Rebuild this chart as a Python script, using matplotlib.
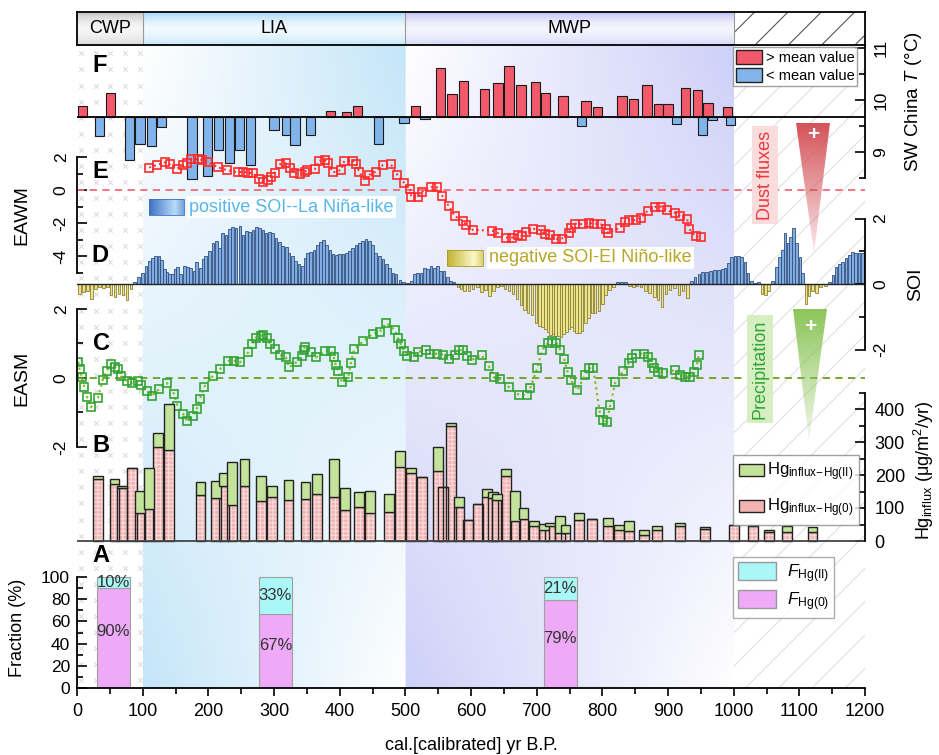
import numpy as np
import matplotlib.pyplot as plt
import matplotlib.colors as mcolors
from matplotlib.patches import Rectangle, Polygon, Patch

plt.rcParams['font.family'] = ['Liberation Sans', 'DejaVu Sans']
plt.rcParams['mathtext.fontset'] = 'custom'
plt.rcParams['mathtext.rm'] = 'Liberation Sans'
plt.rcParams['mathtext.it'] = 'Liberation Sans:italic'
plt.rcParams['axes.unicode_minus'] = False
plt.rcParams['hatch.linewidth'] = 0.8

# ---------------- data ----------------
# F: SW China temperature (bars drawn around the mean)
f_years = [8, 34, 51, 80, 96, 114, 129, 175, 199, 215, 232, 248, 264, 300, 319, 332,
           356, 386, 410, 427, 459, 498, 515, 530, 553, 571, 589, 621, 641, 658, 676,
           698, 714, 740, 768, 775, 793, 830, 848, 868, 885, 900, 913, 927, 945, 952,
           961, 968, 990, 995]
f_temp = [9.89, 9.30, 10.14, 8.85, 9.16, 9.11, 9.48, 8.48, 8.53, 9.04, 8.78, 9.04, 8.75,
          9.42, 9.32, 9.14, 9.32, 9.78, 9.76, 9.89, 9.16, 9.55, 9.89, 9.64, 10.62, 10.12,
          10.37, 10.21, 10.33, 10.65, 10.28, 10.34, 10.14, 10.08, 9.50, 9.99, 9.86, 10.08,
          10.02, 10.28, 9.92, 9.92, 9.53, 10.24, 10.20, 9.32, 9.94, 9.61, 9.86, 9.51]
f_mean = 9.67

# E: EAWM
e_years = [110, 122, 134, 141, 152, 162, 167, 173, 185, 190, 200, 215, 228, 245, 253, 261,
           268, 277, 283, 291, 296, 301, 309, 319, 324, 331, 339, 347, 350, 362, 369, 377,
           382, 390, 402, 407, 420, 425, 430, 438, 445, 455, 466, 478, 488, 498, 507, 509,
           519, 526, 539, 548, 556, 566, 575, 588, 593, 603, 632, 641, 653, 663, 671, 678,
           683, 694, 707, 712, 720, 730, 738, 749, 752, 759, 770, 779, 788, 798, 805, 809,
           827, 835, 840, 851, 859, 869, 880, 890, 898, 911, 919, 929, 932, 942, 950]
e_vals = [1.36, 1.52, 1.68, 1.56, 1.29, 1.50, 1.62, 1.86, 1.88, 1.82, 1.68, 1.37, 1.21, 1.07,
          1.11, 1.05, 1.01, 0.69, 0.51, 0.61, 0.81, 1.05, 1.56, 1.62, 1.31, 1.05, 0.97, 1.07,
          1.21, 1.25, 1.78, 1.82, 1.62, 1.07, 1.21, 1.76, 1.78, 1.56, 1.07, 0.57, 0.91, 1.11,
          1.52, 1.56, 0.91, 0.45, 0.04, -0.40, -0.44, -0.10, 0.17, 0.17, -0.34, -0.96, -1.57,
          -1.87, -2.15, -2.42, -2.46, -2.61, -2.88, -2.88, -2.70, -2.79, -2.55, -2.34, -2.44,
          -2.65, -2.75, -2.95, -2.95, -2.61, -2.28, -2.04, -2.08, -2.00, -2.04, -2.08, -2.34,
          -2.61, -2.28, -1.94, -1.83, -1.83, -1.67, -1.26, -1.02, -1.02, -1.22, -1.39, -1.59,
          -1.73, -2.34, -2.81, -2.85]

# D: SOI
d_years = [4, 10, 16, 22, 28, 34, 40, 46, 52, 58, 64, 70, 76, 82, 88, 94,
           100, 105, 110, 115, 120, 125, 129, 133, 137, 141, 145, 149, 153, 158, 164, 168,
           173, 178, 182, 188, 192, 196, 202, 207, 212, 217, 222, 227, 232, 237, 242, 248,
           253, 258, 263, 268, 273, 278, 283, 288, 293, 298, 303, 308, 313, 319, 323, 328,
           333, 338, 343, 347, 351, 356, 361, 366, 371, 375, 380, 385, 390, 395, 400, 405,
           410, 415, 420, 425, 430, 435, 440, 445, 450, 455, 461, 466, 471, 476, 481, 486,
           492, 497,
           503, 509, 514, 519, 524, 529, 534, 539, 544, 549, 554, 559, 564, 569, 574, 580,
           585, 590, 597, 603, 610, 616, 622, 628, 634, 640, 646, 652, 658, 664, 670, 676,
           681, 687, 693, 699, 704, 709, 713, 717, 721, 725, 729, 733, 737, 741, 745, 749,
           753, 757, 761, 765, 769, 774, 779, 784, 789, 795, 800, 805, 811, 817, 823, 829,
           835, 841, 847, 853, 859, 866, 872, 879, 885, 891, 897, 903, 910, 917, 923, 930,
           936, 941, 947, 953, 959, 965, 971, 977, 983, 987, 992, 997,
           1002, 1007, 1012, 1017, 1022, 1027, 1033, 1038, 1043, 1048, 1053, 1059, 1065,
           1070, 1074, 1078, 1083, 1087, 1091, 1096, 1101, 1105, 1110, 1115, 1120, 1126,
           1132, 1140, 1146, 1151, 1156, 1161, 1166, 1171, 1176, 1181, 1186, 1191, 1196]
d_soi = [-0.30, -0.25, -0.20, -0.45, -0.15, -0.10, -0.12, -0.10, -0.35, -0.40, -0.30, -0.35,
         -0.50, -0.15, 0.05, 0.20,
         0.35, 0.54, 0.70, 0.80, 0.87, 0.85, 0.72, 0.45, 0.37, 0.30, 0.30, 0.45, 0.52, 0.30,
         0.54, 0.52, 0.48, 0.40, 0.66, 0.50, 0.75, 0.87, 1.02, 1.24, 1.30, 1.10, 1.57, 1.50,
         1.69, 1.75, 1.70, 1.77, 1.50, 1.62, 1.59, 1.65, 1.75, 1.72, 1.66, 1.57, 1.60, 1.56,
         1.40, 1.27, 1.15, 1.12, 0.95, 0.87, 0.70, 0.61, 0.56, 0.80, 0.95, 0.99, 1.05, 1.18,
         1.28, 1.34, 1.20, 1.05, 0.92, 0.90, 0.92, 0.92, 0.95, 1.00, 1.10, 1.20, 1.25, 1.30,
         1.37, 1.30, 1.20, 0.95, 0.85, 0.76, 0.60, 0.48, 0.35, 0.30, 0.13, 0.05,
         0.02, 0.10, 0.30, 0.33, 0.35, 0.50, 0.45, 0.56, 0.50, 0.56, 0.40, 0.40, 0.20, 0.10,
         0.05, -0.10, -0.15, -0.20, -0.21, -0.15, -0.10, -0.25, -0.18, -0.37, -0.20, -0.10,
         -0.05, -0.15, -0.20, -0.30, -0.45, -0.64, -0.80, -0.90, -0.95, -1.18, -1.28, -1.30,
         -1.38, -1.48, -1.56, -1.52, -1.60, -1.58, -1.61, -1.52, -1.46, -1.38, -1.30, -1.42,
         -1.51, -1.51, -1.42, -1.20, -1.05, -0.90, -0.90, -0.82, -0.60, -0.34, -0.18, -0.08,
         0.05, 0.07, 0.05, -0.05, -0.10, -0.05, -0.10, -0.20, -0.28, -0.39, -0.50, -0.69,
         -0.30, -0.18, -0.12, -0.34, -0.22, -0.44, 0.10, 0.20, 0.30, 0.38, 0.38, 0.40, 0.43,
         0.43, 0.45, 0.48, 0.63, 0.83,
         0.85, 0.84, 0.83, 0.68, 0.35, 0.10, 0.03, 0.07, -0.30, -0.35, -0.20, 0.08, 0.53,
         0.83, 1.05, 1.55, 1.24, 1.45, 1.70, 1.24, 0.83, 0.33, -0.60, -0.37, -0.20, -0.28,
         -0.10, -0.05, 0.05, 0.28, 0.53, 0.60, 0.68, 0.80, 0.88, 0.99, 0.96, 0.94, 0.94]

# C: EASM
c_years = [2, 4, 7, 11, 15, 21, 32, 39, 45, 52, 58, 63, 67, 76, 83, 93, 98, 106, 114, 125,
           137, 148, 153, 162, 168, 176, 182, 187, 194, 207, 218, 230, 239, 248, 261, 267,
           272, 280, 284, 289, 294, 302, 309, 318, 323, 335, 342, 345, 347, 356, 364, 378,
           387, 391, 394, 398, 403, 413, 417, 422, 436, 450, 461, 471, 484, 489, 493, 498,
           503, 513, 520, 532, 538, 548, 558, 567, 575, 582, 588, 594, 601, 616, 627, 635,
           644, 658, 673, 685, 690, 701, 708, 717, 723, 730, 736, 742, 747, 752, 762, 774,
           779, 786, 796, 801, 807, 812, 820, 832, 840, 845, 852, 863, 870, 875, 879, 885,
           893, 911, 918, 926, 934, 940, 944, 947]
c_vals = [0.47, 0.25, 0.04, -0.25, -0.54, -0.85, -0.57, -0.06, 0.20, 0.41, 0.31, 0.25, 0.06,
          -0.08, -0.14, -0.08, -0.20, -0.38, -0.51, -0.32, -0.15, -0.47, -0.80, -1.05, -1.24,
          -1.10, -0.91, -0.61, -0.25, 0.07, 0.26, 0.50, 0.50, 0.45, 0.75, 0.98, 1.17, 1.22,
          1.25, 1.15, 0.99, 0.84, 0.67, 0.60, 0.31, 0.47, 0.64, 0.81, 0.91, 0.76, 0.60, 0.78,
          0.78, 0.60, 0.38, 0.20, -0.11, 0.04, 0.43, 0.83, 1.07, 1.28, 1.34, 1.59, 1.39, 1.15,
          0.99, 0.79, 0.64, 0.60, 0.76, 0.81, 0.70, 0.70, 0.68, 0.55, 0.67, 0.81, 0.81, 0.64,
          0.52, 0.67, 0.35, 0.02, -0.03, -0.27, -0.49, -0.49, -0.30, 0.28, 0.81, 1.00, 1.08,
          1.02, 0.81, 0.55, 0.18, -0.06, -0.35, 0.09, 0.28, 0.28, -0.98, -1.22, -1.27, -0.78,
          -0.11, 0.21, 0.43, 0.59, 0.71, 0.70, 0.60, 0.43, 0.28, 0.18, 0.15, 0.23, 0.09, 0.04,
          0.04, 0.18, 0.38, 0.67]

# B: Hg influx (ug/m2/yr), Hg(0) part and Hg(II) part
b_years = [32, 57, 68, 84, 96, 110, 123, 140, 188, 212, 224, 236, 255, 280, 297, 322, 348,
           366, 391, 408, 430, 446, 475, 492, 509, 525, 550, 558, 570, 582, 596, 611, 625,
           633, 640, 653, 667, 680, 696, 711, 720, 735, 744, 765, 784, 809, 826, 840, 863,
           883, 918, 956, 1000, 1029, 1054, 1081, 1120]
b_hg0 = [188, 174, 161, 222, 86, 97, 286, 275, 140, 130, 168, 110, 166, 120, 133, 125, 127,
         143, 133, 94, 104, 84, 89, 224, 206, 195, 212, 163, 347, 102, 64, 112, 133, 130, 123,
         198, 62, 66, 44, 32, 46, 25, 25, 64, 66, 44, 34, 31, 19, 34, 44, 36, 47, 44, 28, 28, 28]
b_hg2 = [8, 14, 7, 0, 67, 125, 40, 140, 38, 53, 38, 129, 81, 78, 33, 59, 51, 59, 114, 66,
         44, 69, 53, 50, 16, 0, 74, 0, 10, 31, 0, 0, 26, 18, 20, 21, 91, 34, 18, 21, 10, 51,
         25, 20, 0, 25, 15, 29, 13, 10, 10, 6, 2, 3, 5, 16, 14]

# A: fraction (%)
a_years = [55, 302, 736]
a_hg0 = [90, 67, 79]
a_hg2 = [10, 33, 21]

periods = ['CWP', 'LIA', 'MWP']
period_edges = [0, 100, 500, 1000]

# ---------------- layout (pixels) ----------------
W, H = 939, 755
X0, X1, TOP, BOT = 77, 865, 45, 688
fig = plt.figure(figsize=(W / 100, H / 100), dpi=100)
rect = [X0 / W, 1 - BOT / H, (X1 - X0) / W, (BOT - TOP) / H]


def panel(v1, y1, v2, y2):
    # full height transparent axes; value v1 sits at pixel row y1, v2 at y2
    ax = fig.add_axes(rect)
    k = (v1 - v2) / (y2 - y1)
    ax.set_ylim(v1 - (BOT - y1) * k, v1 + (y1 - TOP) * k)
    ax.set_xlim(0, 1200)
    ax.patch.set_alpha(0)
    for s in ax.spines.values():
        s.set_visible(False)
        s.set_linewidth(1.3)
    ax.set_xticks([])
    ax.tick_params(axis='y', which='major', direction='in', length=7, width=1.2,
                   labelsize=12.5)
    ax.tick_params(axis='y', which='minor', direction='in', length=4, width=1.2)
    return ax


def y_axis(ax, side, lo, hi, major, minor, rot=0, pad=4):
    if side == 'right':
        ax.yaxis.tick_right()
    ax.spines[side].set_visible(True)
    ax.spines[side].set_bounds(lo, hi)
    ax.set_yticks(major)
    ax.set_yticks(minor, minor=True)
    ax.tick_params(axis='y', labelrotation=rot, pad=pad)
    if rot:
        for lab in ax.get_yticklabels():
            lab.set_va('center')
            lab.set_ha('left' if side == 'right' else 'right')


def y_label(ax, text, side, px, py, size):
    # px, py: pixel centre of the rotated label
    if side == 'right':
        ax.yaxis.set_label_position('right')
        ax.set_ylabel(text, fontsize=size, rotation=90, ha='center', va='center',
                      rotation_mode='anchor')
    else:
        ax.set_ylabel(text, fontsize=size, ha='center', va='center',
                      rotation_mode='anchor')
    ax.yaxis.set_label_coords((px - X0) / (X1 - X0), (BOT - py) / (BOT - TOP))


# ---- background (gradients, patterns)
bg = fig.add_axes(rect)
bg.set_xlim(0, 1200)
bg.set_ylim(0, 1)
bg.axis('off')
nx, ny = 900, 300
xs = np.linspace(100, 1000, nx)
ss = np.linspace(1, 0, ny)[:, None]
t = np.where(xs < 500, (xs - 100) / 400, (xs - 500) / 500)[None, :]
wgt = ss * t + (1 - ss) * (1 - t)
lia_c = np.array(mcolors.to_rgb('#c4e5f8'))
mwp_c = np.array(mcolors.to_rgb('#cdd0f8'))
col = np.where((xs < 500)[None, :, None], lia_c, mwp_c)
img = 1 - wgt[..., None] * (1 - col)
bg.imshow(img, extent=(100, 1000, 0, 1), aspect='auto', origin='upper',
          interpolation='bilinear', zorder=0)
gx, gy = np.meshgrid(np.arange(6, 100, 22.5), np.arange(0.012, 1.0, 0.025))
bg.scatter(gx.ravel(), gy.ravel(), marker='x', s=10, color='#d8d8d8', lw=0.7, zorder=1)
bg.add_patch(Rectangle((1000, 0), 200, 1, facecolor='white', edgecolor='#e0e0e0',
                       hatch='/', lw=0, zorder=1))
bg.set_xlim(0, 1200)
bg.set_ylim(0, 1)

# ---- top period band
band = fig.add_axes([X0 / W, 1 - 45 / H, (X1 - X0) / W, 33 / H])
band.set_xlim(0, 1200)
band.set_ylim(0, 1)
sv = np.linspace(0, 1, 60)
tube = 0.15 + 0.85 * np.abs(2 * sv - 1) ** 1.6 * np.where(sv > 0.5, 1.0, 0.55)
for (a, b), c in zip(zip(period_edges[:-1], period_edges[1:]), ['#c4c4c4', '#a6d9f7', '#bfc0f5']):
    cc = np.array(mcolors.to_rgb(c))
    g = 1 - tube[:, None, None] * (1 - cc)
    band.imshow(g, extent=(a, b, 0, 1), aspect='auto', origin='lower',
                interpolation='bilinear')
band.add_patch(Rectangle((1000, 0), 200, 1, facecolor='white', edgecolor='#555555',
                         hatch='/', lw=0))
for e in period_edges[1:]:
    band.axvline(e, color='#999999', lw=0.8)
for name, a, b in zip(periods, period_edges[:-1], period_edges[1:]):
    band.text((a + b) / 2, 0.5, name, ha='center', va='center', fontsize=13)
band.set_xticks([])
band.set_yticks([])
for s in band.spines.values():
    s.set_linewidth(1.3)
band.set_xlim(0, 1200)
band.set_ylim(0, 1)

# ---- F
axF = panel(11, 48, 8.5, 178)
ft = np.array(f_temp)
axF.bar(f_years, ft - f_mean, bottom=f_mean, width=14,
        color=np.where(ft >= f_mean, '#f25a6c', '#82b4ec'), edgecolor='#1a1a1a', lw=0.8)
axF.axhline(f_mean, color='black', lw=1.3)
y_axis(axF, 'right', 8.5, 11.06, [9, 10, 11], [8.5, 9.5, 10.5], rot=90, pad=6)
y_label(axF, 'SW China $T$ (\u00b0C)', 'right', 913, 102, 13.5)
axF.legend([Patch(fc='#f25a6c', ec='#222222'), Patch(fc='#82b4ec', ec='#222222')],
           ['> mean value', '< mean value'], loc='upper left',
           bbox_to_anchor=(733 / W, 1 - 47 / H), bbox_transform=fig.transFigure,
           fontsize=10.5, frameon=True, fancybox=False, edgecolor='#888888',
           borderpad=0.2, handlelength=1.8, handleheight=1.1, handletextpad=0.25,
           labelspacing=0.2, borderaxespad=0)

# ---- E
axE = panel(2, 157, -5, 272.5)
axE.axhline(0, color='#f06a78', ls=(0, (4, 3)), lw=1.3)
axE.plot(e_years, e_vals, ls=':', color='#ff2a2a', lw=1.4, marker='s', ms=5.3,
         mfc='none', mec='#ff2a2a', mew=1.2)
y_axis(axE, 'left', -5, 2, [-4, -2, 0, 2], [-5, -3, -1, 1], rot=90, pad=6)
y_label(axE, 'EAWM', 'left', 22, 215, 14)

# ---- D
axD = panel(2, 218.5, -2, 349.5)
ds = np.array(d_soi)
axD.bar(d_years, ds, width=4, color=np.where(ds >= 0, '#82acdf', '#ede38e'),
        edgecolor=np.where(ds >= 0, '#2f4f80', '#8c8230'), lw=0.6)
axD.axhline(0, color='#222222', lw=1.0)
y_axis(axD, 'right', -2, 2, [-2, 0, 2], [-1, 1], rot=90, pad=6)
y_label(axD, 'SOI', 'right', 916, 284, 14)

# ---- C
axC = panel(2, 309, -2, 447)
axC.axhline(0, color='#6e9e1e', ls=(0, (4, 3)), lw=1.3)
axC.plot(c_years, c_vals, ls=':', color='#86b91a', lw=1.6, marker='s', ms=5.3,
         mfc='none', mec='#33a335', mew=1.2)
y_axis(axC, 'left', -2, 2, [-2, 0, 2], [-1, 1], rot=90, pad=6)
y_label(axC, 'EASM', 'left', 22, 378, 14)

# ---- B
axB = panel(0, 541, 400, 409)
axB.bar(b_years, b_hg0, width=15, color='#f2b3b3', edgecolor='#fadcdc', hatch='++++', lw=0.1)
axB.bar(b_years, b_hg0, width=15, fill=False, edgecolor='#222222', lw=1.0)
axB.bar(b_years, b_hg2, bottom=b_hg0, width=15, color='#c3e39a', edgecolor='#222222', lw=1.0)
axB.axhline(0, color='#444444', lw=1.3)
y_axis(axB, 'right', 0, 450, [0, 100, 200, 300, 400], np.arange(50, 451, 100), pad=7)
axB.tick_params(axis='y', labelsize=13)
y_label(axB, 'Hg$_{\\mathregular{influx}}$ (\u03bcg/m$^{2}$/yr)', 'right', 924, 470, 13)
axB.legend([Patch(fc='#c3e39a', ec='#222222'), Patch(fc='#f2b3b3', ec='#222222')],
           ['Hg$_{\\mathregular{influx\\!-\\!Hg(II)}}$', 'Hg$_{\\mathregular{influx\\!-\\!Hg(0)}}$'],
           loc='upper left', bbox_to_anchor=(733 / W, 1 - 455 / H),
           bbox_transform=fig.transFigure, fontsize=12, frameon=True, fancybox=False,
           edgecolor='#888888', borderpad=0.35, handlelength=1.5, handleheight=0.8,
           handletextpad=0.2, labelspacing=0.8, borderaxespad=0)

# ---- A
axA = panel(0, 688, 100, 577)
axA.bar(a_years, a_hg0, width=50, color='#eeaaf7', edgecolor='#a0a0a0', lw=0.8)
axA.bar(a_years, a_hg2, bottom=a_hg0, width=50, color='#aaf7f7', edgecolor='#a0a0a0', lw=0.8)
for x, p, q in zip(a_years, a_hg0, a_hg2):
    axA.text(x, p * 0.57, f'{p}%', ha='center', va='center', fontsize=12, color='#333333')
    axA.text(x, p + q / 2, f'{q}%', ha='center', va='center', fontsize=12, color='#333333')
y_axis(axA, 'left', 0, 100, [0, 20, 40, 60, 80, 100], [10, 30, 50, 70, 90], pad=5)
y_label(axA, 'Fraction (%)', 'left', 18, 628, 13)
axA.spines['bottom'].set_visible(True)
axA.set_xticks(np.arange(0, 1201, 100))
axA.set_xticks(np.arange(50, 1200, 100), minor=True)
axA.tick_params(axis='x', which='major', direction='out', length=6, width=1.2,
                labelsize=13, pad=5)
axA.tick_params(axis='x', which='minor', direction='out', length=4, width=1.2)
axA.legend([Patch(fc='#aaf7f7', ec='#999999'), Patch(fc='#eeaaf7', ec='#999999')],
           ['$F_{\\mathregular{Hg(II)}}$', '$F_{\\mathregular{Hg(0)}}$'],
           loc='upper left', bbox_to_anchor=(733 / W, 1 - 557 / H),
           bbox_transform=fig.transFigure, fontsize=12.5, frameon=True, fancybox=False,
           edgecolor='#999999', borderpad=0.3, handlelength=2.2, handleheight=1.2,
           handletextpad=0.6, labelspacing=0.3, borderaxespad=0)
fig.text(471 / W, 1 - 745 / H, 'cal.[calibrated] yr B.P.', ha='center', va='center',
         fontsize=13)

# ---- overlay for annotations (pixel coordinates)
ov = fig.add_axes([0, 0, 1, 1])
ov.set_xlim(0, W)
ov.set_ylim(H, 0)
ov.axis('off')
ov.set_autoscale_on(False)


def grad_triangle(xl, xr, ytop, xtip, ytip, color):
    n = 120
    g = np.zeros((n, 1, 4))
    g[..., :3] = mcolors.to_rgb(color)
    g[:, 0, 3] = np.linspace(0.95, 0.12, n)
    im = ov.imshow(g, extent=(xl, xr, ytip, ytop), origin='upper', aspect='auto',
                   interpolation='bilinear', zorder=2)
    tri = Polygon([(xl, ytop), (xr, ytop), (xtip, ytip)], closed=True, fc='none', ec='none')
    ov.add_patch(tri)
    im.set_clip_path(tri)


def grad_patch(x0, x1, y0, y1, dark, light, ec):
    tt = np.linspace(0, 1, 80)
    w = np.interp(tt, [0, 0.75, 1], [1, 0, 0.55])
    d, l = np.array(mcolors.to_rgb(dark)), np.array(mcolors.to_rgb(light))
    g = l + w[:, None] * (d - l)
    ov.imshow(g[None], extent=(x0, x1, y1, y0), origin='upper', aspect='auto',
              interpolation='bilinear', zorder=3)
    ov.add_patch(Rectangle((x0, y0), x1 - x0, y1 - y0, fill=False, ec=ec, lw=0.6, zorder=4))


ov.text(189, 207, 'positive SOI--La Ni\u00f1a-like', ha='left', va='center', fontsize=13,
        color='#55b6ee', bbox=dict(fc='white', ec='none', pad=1.5), zorder=3)
grad_patch(149, 184, 199, 215, '#3f6fc2', '#b8dcfa', '#3f6fc2')
ov.text(489, 258, 'negative SOI-EI Ni\u00f1o-like', ha='left', va='center', fontsize=13,
        color='#b7a626', bbox=dict(fc='white', ec='none', pad=1.5), zorder=3)
grad_patch(447, 483, 250, 266, '#c2b232', '#fbf8c6', '#a89a2c')

ov.text(765, 175, 'Dust fluxes', rotation=90, ha='center', va='center', fontsize=13,
        color='#e8383c', bbox=dict(fc='#fbdcdc', ec='none', pad=3), zorder=3)
grad_triangle(796, 830, 123, 814, 253, '#d24a50')
ov.text(813, 134, '+', ha='center', va='center', fontsize=15, color='white',
        fontweight='bold', zorder=4)
ov.text(760, 369, 'Precipitation', rotation=90, ha='center', va='center', fontsize=13,
        color='#33a33a', bbox=dict(fc='#d6efc0', ec='none', pad=3), zorder=3)
grad_triangle(793, 827, 309, 809, 440, '#86c250')
ov.text(810, 326, '+', ha='center', va='center', fontsize=15, color='white',
        fontweight='bold', zorder=4)

for lab, (px, py) in zip('FEDCBA', [(100, 66), (100, 172), (100, 255), (101, 344),
                                     (101, 446), (101, 556)]):
    ov.text(px, py, lab, ha='center', va='center', fontsize=17, fontweight='bold')

fig.savefig('out.png', dpi=100)
